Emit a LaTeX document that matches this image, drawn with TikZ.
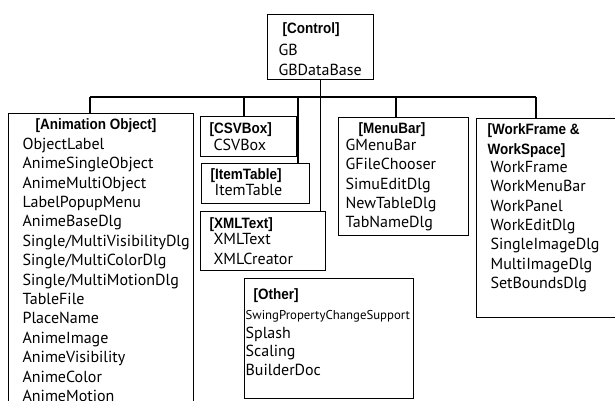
\documentclass[tikz,border=0pt]{standalone}
\usepackage{fontspec}
\setmainfont{PT Sans}
\newfontfamily\hdfont[FakeStretch=0.9]{Liberation Sans}
\usetikzlibrary{positioning}
\newcommand{\hd}[1]{{\hdfont\bfseries\fontsize{15}{15}\selectfont #1}}
\newcommand{\itemfont}{\fontsize{16}{19.4}\selectfont}

\begin{document}
\begin{tikzpicture}[x=1pt, y=-1pt, line width=1.2pt,
  grp/.style={draw, anchor=north west, inner sep=0pt},
  list/.style={anchor=north west, align=left, inner sep=0pt, font=\itemfont}]
  \useasboundingbox (0,0) rectangle (615,401);
  \clip (0,0) rectangle (615,401);
  % group boxes
  \node[grp, minimum width=106pt, minimum height=65pt] (ctrl) at (267,14) {};
  \node[grp, minimum width=185pt, minimum height=300pt] (anim) at (8,113) {};
  \node[grp, minimum width=96pt, minimum height=40pt] (csv) at (200,116) {};
  \node[grp, minimum width=108pt, minimum height=40pt] (itab) at (201,163) {};
  \node[grp, minimum width=125pt, minimum height=59pt] (xml) at (200,211) {};
  \node[grp, minimum width=130pt, minimum height=118pt] (menu) at (338,117) {};
  \node[grp, minimum width=160pt, minimum height=199pt] (work) at (476,118) {};
  \node[grp, minimum width=169pt, minimum height=120pt] (other) at (244,278) {};
  % bus
  \coordinate (b1) at (90,97);
  \coordinate (b2) at (244,97);
  \coordinate (b3) at (298,97);
  \coordinate (b4) at (396,97);
  \coordinate (b5) at (536,97);
  \draw (ctrl.south) -- (ctrl.south |- xml.north);
  \draw (b1) -- (b5);
  \draw (b1) -- (b1 |- anim.north);
  \draw (b2) -- (b2 |- csv.north);
  \draw (b3) -- (b3 |- itab.north);
  \draw (b4) -- (b4 |- menu.north);
  \draw (b5) -- (b5 |- work.north);
  % class lists
  \node[list] (ctrltxt) at ([shift={(11pt,-8pt)}]ctrl.north west)
    {\hspace*{4pt}\hd{[Control]}\\[2.5pt] GB\\[0.5pt] GBDataBase};
  \node[list] (animtxt) at ([shift={(14pt,-5pt)}]anim.north west)
    {\hspace*{13pt}\hd{[Animation Object]}\\[0.5pt]
     ObjectLabel\\ AnimeSingleObject\\ AnimeMultiObject\\ LabelPopupMenu\\
     AnimeBaseDlg\\ Single/MultiVisibilityDlg\\ Single/MultiColorDlg\\
     Single/MultiMotionDlg\\ TableFile\\ PlaceName\\ AnimeImage\\
     AnimeVisibility\\ AnimeColor\\ AnimeMotion};
  \node[list] (csvtxt) at ([shift={(13pt,-6pt)}]csv.north west)
    {\hspace*{-4pt}\hd{[CSVBox]}\\[-2.5pt] CSVBox};
  \node[list] (itabtxt) at ([shift={(13pt,-5pt)}]itab.north west)
    {\hspace*{-4pt}\hd{[ItemTable]}\\[-3.5pt] ItemTable};
  \node[list] (xmltxt) at ([shift={(13pt,-6pt)}]xml.north west)
    {\hspace*{-4pt}\hd{[XMLText]}\\[-3.5pt] XMLText\\[0.5pt] XMLCreator};
  \node[list] (menutxt) at ([shift={(7pt,-5pt)}]menu.north west)
    {\hspace*{13pt}\hd{[MenuBar]}\\[-2.5pt]
     GMenuBar\\ GFileChooser\\ SimuEditDlg\\ NewTableDlg\\ TabNameDlg};
  \node[list] (worktxt) at ([shift={(14pt,-5pt)}]work.north west)
    {\hspace*{-3pt}\hd{[WorkFrame \&}\\[0.5pt] \hspace*{-3pt}\hd{WorkSpace]}\\[-1.5pt]
     WorkFrame\\ WorkMenuBar\\ WorkPanel\\ WorkEditDlg\\
     SingleImageDlg\\ MultiImageDlg\\ SetBoundsDlg};
  \node[list] (othertxt) at ([shift={(1pt,-10pt)}]other.north west)
    {\hspace*{8pt}\hd{[Other]}\\[0.5pt]
     {\fontsize{12.8}{19.4}\selectfont SwingPropertyChangeSupport}\\[-0.5pt]
     Splash\\[-1pt] Scaling\\[-1pt] BuilderDoc};
\end{tikzpicture}
\end{document}
